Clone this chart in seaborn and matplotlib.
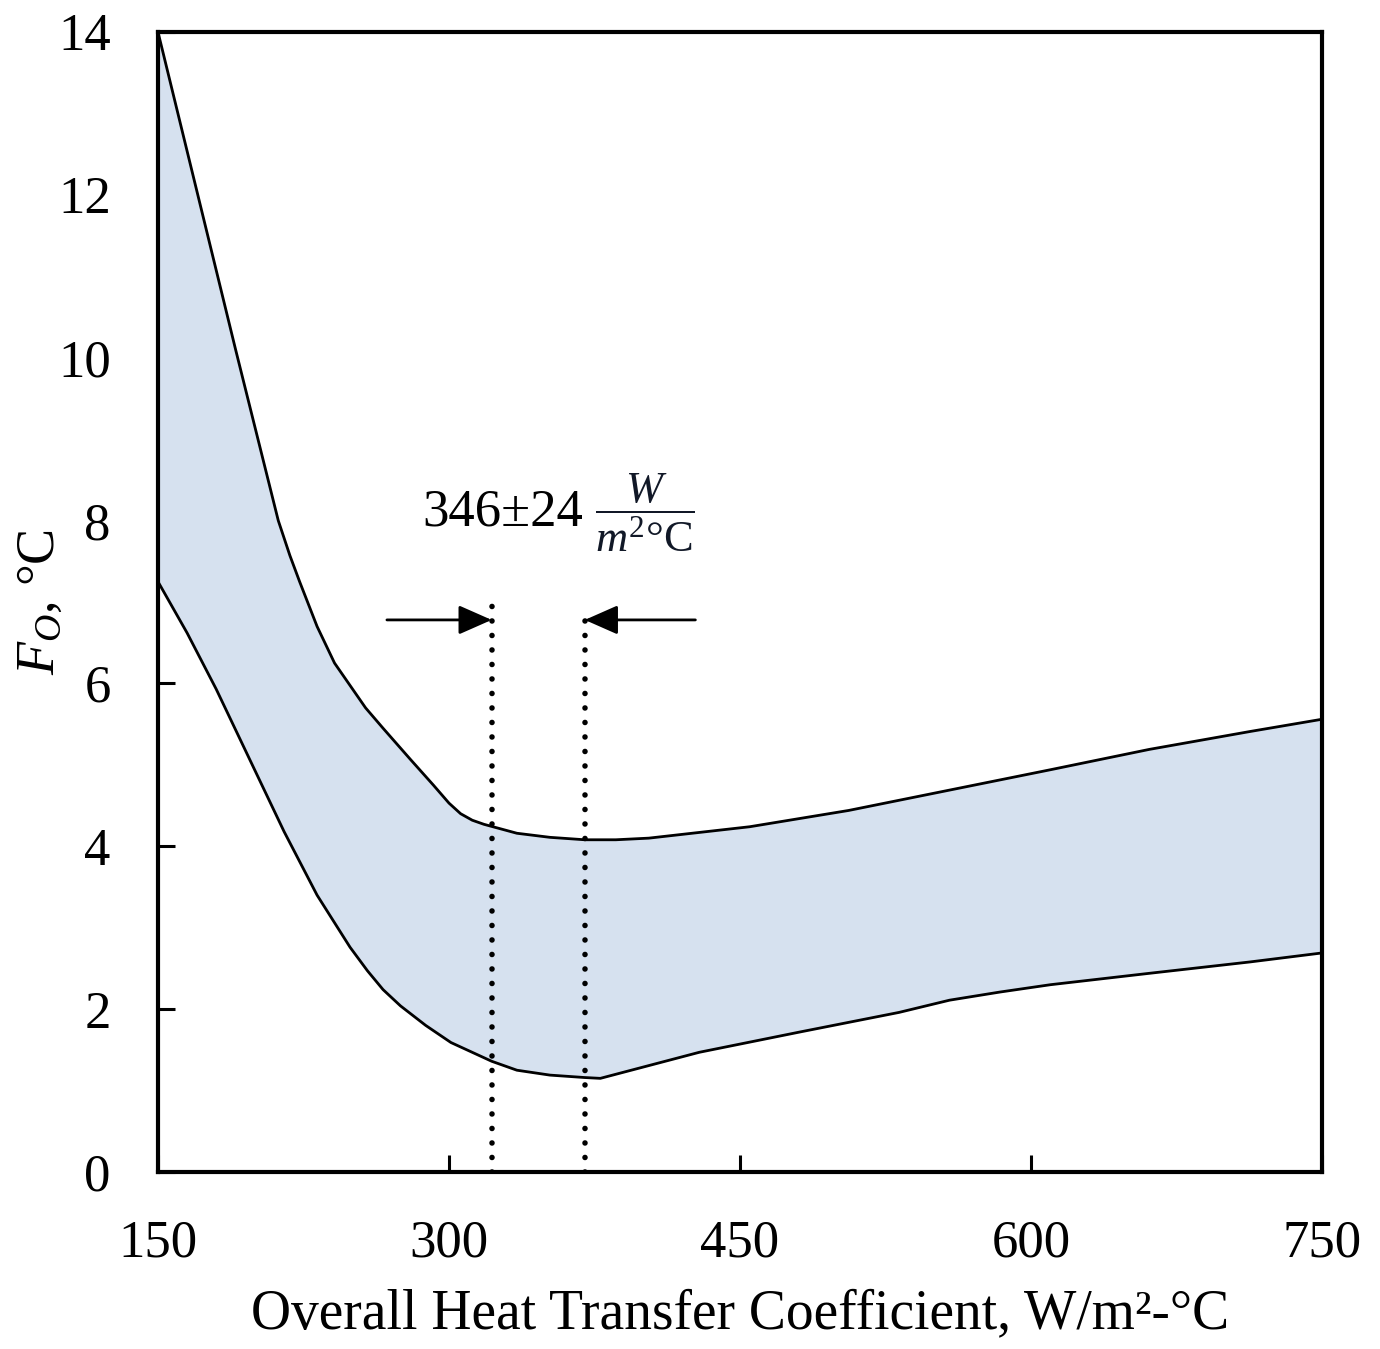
import numpy as np
import pandas as pd
import matplotlib
matplotlib.use("Agg")
import matplotlib.pyplot as plt
import seaborn as sns

# ---- data ----
x_upper = [150, 170, 190, 212, 218, 223, 232, 241, 257, 266, 280, 292, 300, 306, 312, 318,
           335, 352, 370, 386, 403, 455, 506, 558, 610, 661, 713, 750]
y_upper = [14.0, 12.05, 10.1, 8.0, 7.57, 7.25, 6.7, 6.25, 5.7, 5.45, 5.07, 4.75, 4.53, 4.40, 4.32, 4.27,
           4.16, 4.11, 4.08, 4.08, 4.10, 4.24, 4.44, 4.69, 4.94, 5.19, 5.41, 5.56]
x_lower = [150, 165, 180, 197, 215, 232, 249, 258, 266, 275, 288, 301, 322, 335, 352, 370, 378,
           429, 481, 532, 558, 584, 610, 661, 713, 750]
y_lower = [7.25, 6.62, 5.93, 5.08, 4.18, 3.40, 2.76, 2.47, 2.24, 2.04, 1.80, 1.59, 1.36, 1.25, 1.19, 1.16, 1.15,
           1.47, 1.72, 1.96, 2.11, 2.21, 2.30, 2.44, 2.58, 2.69]

range_low, range_high = 322, 370          # 346 ± 24
range_top = [6.97, 6.88]
arrow_y = 6.78
arrow_left_start, arrow_right_start = 268, 427
annot_text = "346±24"

x_ticks = [150, 300, 450, 600, 750]
y_ticks = [0, 2, 4, 6, 8, 10, 12, 14]
x_label = "Overall Heat Transfer Coefficient, W/m²-°C"
y_label = r"$F_{O}$, °C"

# ---- style ----
sns.set_theme(style="white")
plt.rcParams["font.family"] = ["Liberation Serif", "DejaVu Serif"]
plt.rcParams["text.color"] = "black"
plt.rcParams["axes.labelcolor"] = "black"
plt.rcParams["xtick.color"] = "black"
plt.rcParams["ytick.color"] = "black"
plt.rcParams["mathtext.fontset"] = "custom"
plt.rcParams["mathtext.rm"] = "Liberation Serif"
plt.rcParams["mathtext.it"] = "Liberation Serif:italic"
plt.rcParams["mathtext.bf"] = "Liberation Serif:bold"

fig = plt.figure(figsize=(13.8, 13.49), dpi=100)
ax = fig.add_axes([158/1380, 1 - 1172/1349, 1164/1380, 1140/1349])

up = pd.DataFrame({"x": x_upper, "y": y_upper})
lo = pd.DataFrame({"x": x_lower, "y": y_lower})

poly_x = np.concatenate([up["x"].values, lo["x"].values[::-1]])
poly_y = np.concatenate([up["y"].values, lo["y"].values[::-1]])
ax.fill(poly_x, poly_y, color="#d6e1ef", lw=0, zorder=1)

sns.lineplot(data=up, x="x", y="y", ax=ax, color="black", lw=2.0, estimator=None, zorder=3)
sns.lineplot(data=lo, x="x", y="y", ax=ax, color="black", lw=2.0, estimator=None, zorder=3)
for ln in ax.lines:
    ln.set_solid_joinstyle("round")

for xv, top in zip([range_low, range_high], range_top):
    ax.plot([xv, xv], [0, top], color="black", lw=4.0, linestyle=(0, (0.01, 2.6)),
            dash_capstyle="round", zorder=4)

arrow_kw = dict(arrowstyle="-|>,head_length=1.7,head_width=0.75", color="black",
                lw=2.0, shrinkA=0, shrinkB=0)
ax.annotate("", xy=(range_low, arrow_y), xytext=(arrow_left_start, arrow_y),
            arrowprops=arrow_kw, zorder=5)
ax.annotate("", xy=(range_high, arrow_y), xytext=(arrow_right_start, arrow_y),
            arrowprops=arrow_kw, zorder=5)

ax.text(369, 8.1, annot_text, ha="right", va="center", fontsize=38, color="black")
ax.text(375, 8.1, r"$\dfrac{W}{m^{2}°\mathrm{C}}$", ha="left", va="center",
        fontsize=32, color="#111827")

ax.set_xlim(150, 750)
ax.set_ylim(0, 14)
ax.set_xticks(x_ticks)
ax.set_yticks(y_ticks)
ax.set_xticklabels([str(v) for v in x_ticks])
ax.set_yticklabels([str(v) for v in y_ticks])
ax.tick_params(axis="x", direction="in", length=12, width=2.2, labelsize=38, pad=34,
               bottom=True, top=False, colors="black")
ax.tick_params(axis="y", direction="in", length=12, width=2.2, labelsize=38, pad=34,
               left=True, right=False, colors="black")
for s in ax.spines.values():
    s.set_visible(True)
    s.set_color("black")
    s.set_linewidth(3.0)

ax.set_xlabel(x_label, fontsize=40, color="black")
ax.set_ylabel(y_label, fontsize=39, color="black")
ax.xaxis.set_label_coords(0.5, -0.125)
ax.xaxis.label.set_va("center")
ax.yaxis.set_label_coords(-0.101, 0.5)
ax.yaxis.label.set_va("center")

fig.savefig("out.png", dpi=100, facecolor="white")
